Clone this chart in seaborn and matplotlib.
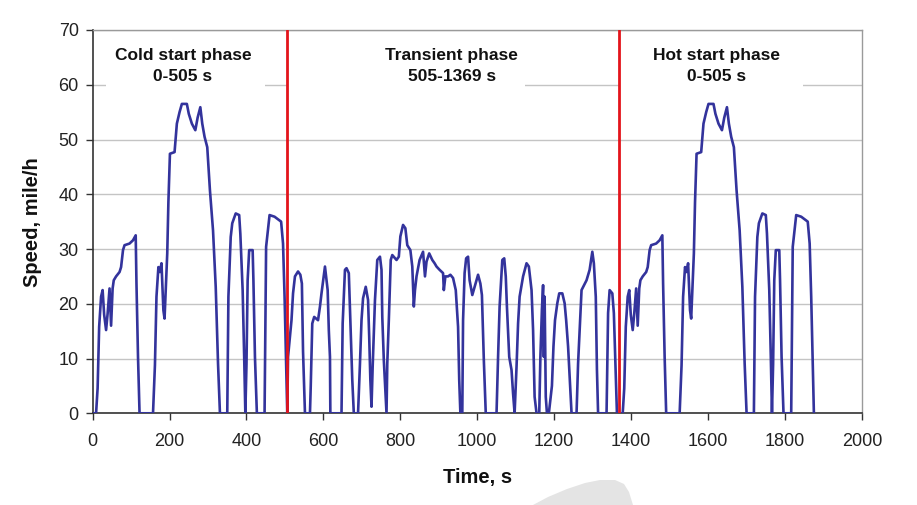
import matplotlib
matplotlib.use("Agg")
import matplotlib.pyplot as plt
import seaborn as sns
import pandas as pd
from matplotlib.patches import Polygon, Rectangle

# ---------------- data ----------------
cold_time = [0, 9, 13, 17, 22, 26, 30, 35, 39, 44, 48, 52, 55, 61, 70, 74, 79, 83, 96, 105,
             112, 114, 118, 122, 157, 162, 166, 171, 175, 179, 184, 187, 190, 194, 197, 201,
             213, 219, 226, 232, 245, 250, 258, 267, 273, 280, 285, 291, 298, 305, 313, 320,
             326, 331, 350, 353, 359, 363, 372, 381, 384, 390, 394, 397, 400, 403, 407, 416,
             418, 422, 427, 447, 451, 460, 473, 490, 495, 499, 503, 506]
cold_speed = [0, 0, 4.6, 15.8, 21.3, 22.5, 18, 15.2, 18.2, 22.8, 16, 22.8, 24.3, 25, 25.8, 26.7,
              29.8, 30.7, 31, 31.6, 32.5, 23.7, 10.3, 0, 0, 8.8, 21.3, 26.7, 25.8, 27.4, 18.8,
              17.3, 22.5, 29.2, 38.6, 47.4, 47.7, 52.9, 55, 56.5, 56.5, 54.7, 52.9, 51.7, 54,
              55.9, 52.9, 50.5, 48.6, 40.7, 33.4, 23.1, 9.1, 0, 0, 21.3, 32.2, 34.7, 36.5, 36.2,
              32.8, 22.5, 10.3, 0, 9, 24.3, 29.8, 29.8, 24.3, 10.3, 0, 0, 30.4, 36.2, 35.9, 35,
              31, 21.3, 9.1, 0]

transient_time = [508, 517, 521, 526, 534, 540, 544, 547, 552, 565, 567, 571, 576, 586, 591, 595,
                  604, 608, 611, 614, 617, 618, 647, 650, 656, 660, 666, 670, 675, 679, 690, 695,
                  699, 703, 710, 716, 719, 722, 725, 728, 734, 740, 747, 751, 753, 757, 764, 766,
                  770, 775, 779, 790, 796, 800, 807, 813, 818, 826, 831, 835, 838, 842, 850, 859,
                  864, 868, 875, 883, 889, 894, 902, 911, 913, 917, 924, 930, 937, 944, 950, 953,
                  956, 961, 963, 967, 971, 976, 980, 987, 993, 1002, 1008, 1012, 1017, 1022, 1050,
                  1054, 1058, 1065, 1070, 1074, 1077, 1083, 1089, 1093, 1097, 1102, 1106, 1110,
                  1119, 1128, 1134, 1141, 1145, 1149, 1154, 1161, 1164, 1168, 1171, 1173, 1175,
                  1178, 1181, 1186, 1194, 1198, 1202, 1208, 1213, 1221, 1227, 1231, 1236, 1245,
                  1258, 1262, 1266, 1271, 1284, 1292, 1299, 1303, 1308, 1311, 1314, 1336, 1340,
                  1344, 1351, 1355, 1359, 1363]
transient_speed = [10.3, 17, 21.9, 25, 25.9, 25.3, 23.7, 11.3, 0, 0, 4.9, 16.4, 17.6, 17, 19.5,
                   21.9, 26.8, 24.3, 22.5, 15.2, 10.3, 0, 0, 16.4, 26.2, 26.5, 25.6, 17, 6.1, 0,
                   0, 9.1, 17, 21, 23.1, 20.7, 14, 6.1, 1.2, 8.5, 20.7, 28, 28.6, 26.2, 17.6, 9.7,
                   0, 9.1, 17, 28, 28.9, 28, 28.6, 32.3, 34.4, 33.8, 30.7, 29.8, 26.8, 19.5, 22.5,
                   25, 28, 29.5, 25, 27.7, 29.2, 28, 27.4, 26.8, 26.2, 25.6, 22.5, 25, 25, 25.3,
                   24.7, 22.5, 15.8, 6.1, 0, 0, 17, 25.6, 28.3, 28.6, 24.3, 21.6, 23.1, 25.3,
                   23.7, 21.6, 9.7, 0, 0, 10.3, 19.5, 28, 28.3, 25, 19.5, 10.3, 7.9, 3.6, 0, 8.5,
                   16.4, 21.3, 25, 27.4, 26.8, 22.5, 15.2, 3, 0, 0, 10.3, 19, 23.4, 10.3, 21.3, 3,
                   0, 0, 5, 12.2, 17, 20.1, 21.9, 21.9, 20.1, 17, 12.2, 0, 0, 9.1, 15.2, 22.5,
                   24.3, 26.2, 29.5, 27.4, 21.3, 8, 0, 0, 18.3, 22.5, 21.9, 18.3, 9.1, 0]

hot_time = [1369, 1378, 1382, 1386, 1391, 1395, 1399, 1404, 1408, 1413, 1417, 1421, 1424, 1430,
            1439, 1443, 1448, 1452, 1465, 1474, 1481, 1483, 1487, 1491, 1526, 1531, 1535, 1540,
            1544, 1548, 1553, 1556, 1559, 1563, 1566, 1570, 1582, 1588, 1595, 1601, 1614, 1619,
            1627, 1636, 1642, 1649, 1654, 1660, 1667, 1674, 1682, 1689, 1695, 1700, 1719, 1722,
            1728, 1732, 1741, 1750, 1753, 1759, 1763, 1766, 1769, 1772, 1776, 1785, 1787, 1791,
            1796, 1816, 1820, 1829, 1842, 1859, 1864, 1868, 1872, 1875]
hot_speed = [0, 0, 4.6, 15.8, 21.3, 22.5, 18, 15.2, 18.2, 22.8, 16, 22.8, 24.3, 25, 25.8, 26.7,
             29.8, 30.7, 31, 31.6, 32.5, 23.7, 10.3, 0, 0, 8.8, 21.3, 26.7, 25.8, 27.4, 18.8,
             17.3, 22.5, 29.2, 38.6, 47.4, 47.7, 52.9, 55, 56.5, 56.5, 54.7, 52.9, 51.7, 54,
             55.9, 52.9, 50.5, 48.6, 40.7, 33.4, 23.1, 9.1, 0, 0, 21.3, 32.2, 34.7, 36.5, 36.2,
             32.8, 22.5, 10.3, 0, 9, 24.3, 29.8, 29.8, 24.3, 10.3, 0, 0, 30.4, 36.2, 35.9, 35,
             31, 21.3, 9.1, 0]

phase_bounds = [505, 1369]
phase_labels = ["Cold start phase\n0-505 s", "Transient phase\n505-1369 s", "Hot start phase\n0-505 s"]
phase_label_x = [235, 934, 1622]
phase_label_y = 63.4

x_ticks = list(range(0, 2001, 200))
y_ticks = list(range(0, 71, 10))

# ---------------- plot ----------------
sns.set_style("white")
plt.rcParams["font.family"] = ["Liberation Sans", "DejaVu Sans"]

df = pd.DataFrame({
    "time": cold_time + transient_time + hot_time,
    "speed": cold_speed + transient_speed + hot_speed,
})

fig = plt.figure(figsize=(9.17, 5.05), dpi=100)
ax = fig.add_axes([0.101, 0.1816, 0.839, 0.759])

ax.yaxis.grid(True, color="#c4c4c4", linewidth=1.0, zorder=0)
ax.set_axisbelow(True)

sns.lineplot(data=df, x="time", y="speed", color="#33339c", linewidth=1.9,
             sort=False, estimator=None, ax=ax, zorder=3)

for b in phase_bounds:
    ax.axvline(b, color="#e3141b", linewidth=2.0, zorder=4)

# white text-box backgrounds (they hide the 60 gridline behind the labels)
box_spans = [(35, 448), (507, 1124), (1371, 1846)]
for x0, x1 in box_spans:
    ax.add_patch(Rectangle((x0, 57.8), x1 - x0, 11.5, facecolor="white",
                           edgecolor="none", zorder=1.5))

for lbl, xx in zip(phase_labels, phase_label_x):
    ax.text(xx, phase_label_y, lbl, ha="center", va="center", fontsize=12.5,
            fontweight="bold", color="#111111", linespacing=1.45, zorder=2)

ax.set_xlim(0, 2000)
ax.set_ylim(0, 70)
ax.set_xticks(x_ticks)
ax.set_yticks(y_ticks)
ax.tick_params(axis="both", direction="out", length=5, width=1, color="#333333",
               labelsize=13, labelcolor="#222222")
ax.tick_params(axis="x", pad=9)
ax.tick_params(axis="y", pad=5)
ax.tick_params(axis="both", which="both", bottom=True, left=True)

for s in ["left", "bottom"]:
    ax.spines[s].set_color("#333333")
    ax.spines[s].set_linewidth(1.2)
for s in ["top", "right"]:
    ax.spines[s].set_color("#9a9a9a")
    ax.spines[s].set_linewidth(1.0)

ax.set_xlabel("Time, s", fontsize=14.5, fontweight="bold", color="#111111", labelpad=13)
ax.set_ylabel("Speed, mile/h", fontsize=14.5, fontweight="bold", color="#111111", labelpad=12)

# faint watermark blob at the bottom of the picture
W, H = 917.0, 505.0
blob_px = [(533, 505), (548, 497), (567, 489), (585, 483), (600, 480), (615, 480),
           (624, 484), (629, 492), (633, 505)]
blob = Polygon([(x / W, 1 - y / H) for x, y in blob_px], closed=True,
               transform=fig.transFigure, facecolor="#e4e4e4", edgecolor="none", zorder=-1)
fig.patches.append(blob)

fig.savefig("out.png", dpi=100)
